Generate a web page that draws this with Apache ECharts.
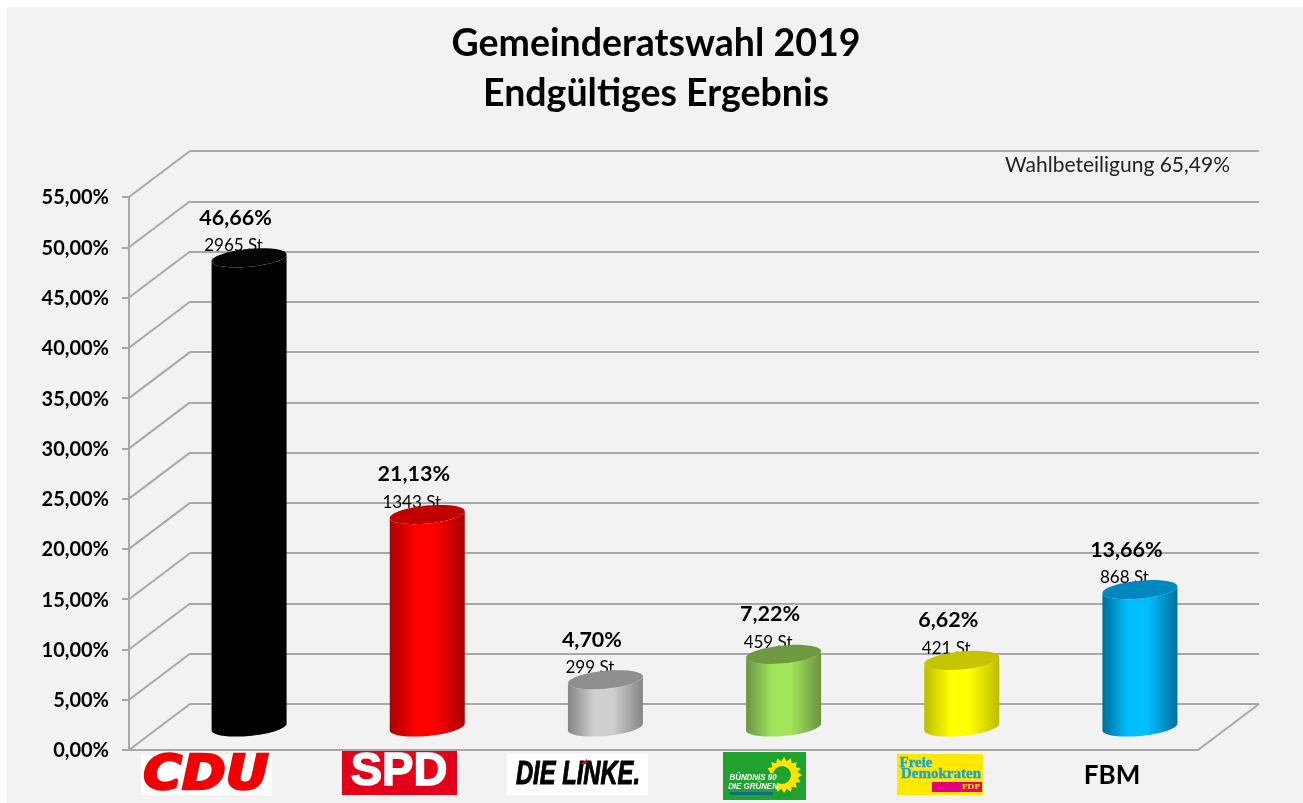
<!DOCTYPE html>
<html>
<head>
<meta charset="utf-8">
<title>Gemeinderatswahl 2019</title>
<script src="https://cdn.jsdelivr.net/npm/echarts@6/dist/echarts.min.js"></script>
<style>
    html, body { margin: 0; background: #fff; }
    #panel { position: absolute; left: 7px; top: 7px; right: 0; bottom: 0; background: #f2f2f2; }
    #chart { position: absolute; left: 0; top: 0; width: 1303px; height: 803px; }
</style>
</head>
<body>
<div id="panel"></div>
<div id="chart"></div>
<script>
const parties = ["CDU", "SPD", "DIE LINKE.", "GRÜNE", "FDP", "FBM"];
const shares = [46.66, 21.13, 4.70, 7.22, 6.62, 13.66];
const votes = [2965, 1343, 299, 459, 421, 868];
const yTicks = [0, 5, 10, 15, 20, 25, 30, 35, 40, 45, 50, 55];

const mainTitle = "Gemeinderatswahl 2019\nEndgültiges Ergebnis";
const turnoutNote = "Wahlbeteiligung 65,49%";

// edge colour, centre colour, top colour of each cylinder
const barColors = [
    ["#000000", "#000000", "#050505"],
    ["#a80000", "#ff0000", "#c00000"],
    ["#858585", "#cfcfcf", "#8f8f8f"],
    ["#6b9440", "#a2e45c", "#6f9a42"],
    ["#bcbc00", "#ffff00", "#c4c400"],
    ["#006f9e", "#00bfff", "#0088bd"],
];

const FONT = "Lato, 'Open Sans', sans-serif";
const GRID_COLOR = "#a8a8a8";
const FRONT = { left: 129, top: 197, width: 1069, height: 553 };
const DEPTH_X = 61, DEPTH_Y = 46;

function percent(v) {
    return v.toFixed(2).replace(".", ",") + "%";
}

// MARK: - Cylinder helpers

function ellipsePoints(cx, cy, from, to) {
    const a = 37.5, b = 9, skew = 0.09;
    let points = [];
    for (let i = 0; i <= 40; i++) {
        let t = from + (to - from) * i / 40;
        points.push([cx + a * Math.cos(t), cy + b * Math.sin(t) - skew * a * Math.cos(t)]);
    }
    return points;
}

function renderCylinder(params, api) {
    let index = api.value(0);
    let value = api.value(1);
    let top = api.coord([index, value]);
    let base = api.coord([index, 0]);
    let cx = top[0] + DEPTH_X / 2 + 0.5;
    let topY = top[1] - DEPTH_Y / 2;
    let baseY = base[1] - DEPTH_Y / 2;
    let colors = barColors[index];

    let body = ellipsePoints(cx, baseY, 0, Math.PI).concat(ellipsePoints(cx, topY, Math.PI, 0));
    let gradient = new echarts.graphic.LinearGradient(0, 0, 1, 0, [
        { offset: 0, color: colors[0] },
        { offset: 0.35, color: colors[1] },
        { offset: 0.6, color: colors[1] },
        { offset: 1, color: colors[0] },
    ]);

    return {
        type: "group",
        children: [
            {
                type: "text",
                style: {
                    text: percent(value), x: cx - 13.5, y: topY - 40,
                    font: "bold 21.5px " + FONT, fill: "#000",
                    align: "center", verticalAlign: "middle",
                },
            },
            {
                type: "text",
                style: {
                    text: votes[index] + " St.", x: cx - 13.5, y: topY - 12,
                    font: "17px " + FONT, fill: "#000",
                    align: "center", verticalAlign: "middle",
                },
            },
            { type: "polygon", shape: { points: body }, style: { fill: gradient } },
            {
                type: "polygon",
                shape: { points: ellipsePoints(cx, topY, 0, Math.PI * 2) },
                style: { fill: colors[2] },
            },
        ],
    };
}

// diagonal lines of the side wall and the floor
function renderWalls(params, api) {
    let y = api.coord([0, api.value(1)])[1];
    let left = params.coordSys.x;
    let lines = [[left, y]];
    if (api.value(1) === 0) {
        lines.push([left + params.coordSys.width, y]);
    }
    return {
        type: "group",
        children: lines.map(start => ({
            type: "line",
            shape: { x1: start[0], y1: start[1], x2: start[0] + DEPTH_X, y2: start[1] - DEPTH_Y },
            style: { stroke: GRID_COLOR, lineWidth: 2 },
        })),
    };
}

// MARK: - Party logos under the axis

function sunflower(cx, cy) {
    let points = [];
    for (let i = 0; i < 32; i++) {
        let angle = Math.PI * i / 16;
        let r = i % 2 === 0 ? 18 : 14;
        points.push([cx + r * Math.cos(angle), cy + r * Math.sin(angle)]);
    }
    return points;
}

function logoText(text, x, y, font, fill, extra) {
    return Object.assign({
        type: "text",
        x: x,
        y: y,
        style: Object.assign({ text: text, font: font, fill: fill, align: "center", verticalAlign: "middle" },
            extra && extra.stroke ? { stroke: fill, lineWidth: extra.stroke } : {}),
    }, extra && extra.scaleX ? { scaleX: extra.scaleX } : {});
}

function logoRect(x, y, width, height, fill) {
    return { type: "rect", shape: { x: x, y: y, width: width, height: height }, style: { fill: fill } };
}

const logos = [
    logoRect(141, 755, 131, 40, "#ffffff"),
    logoText("CDU", 206, 777, "italic bold 48px 'DejaVu Sans'", "#f00000", { stroke: 2.5, scaleX: 1.1 }),

    logoRect(342, 750, 115, 45, "#e2001a"),
    logoText("SPD", 399, 772, "bold 47px 'Liberation Sans'", "#ffffff", { stroke: 1.5 }),

    logoRect(507, 754, 141, 41, "#ffffff"),
    logoText("DIE LINKE.", 578, 775, "italic bold 33px 'Liberation Sans'", "#000000", { stroke: 1, scaleX: 0.72 }),
    { type: "polygon", shape: { points: [[580, 764], [587, 759], [586, 764]] }, style: { fill: "#e3000f" } },

    logoRect(723, 752, 83, 48, "#1fa32e"),
    { type: "polygon", shape: { points: sunflower(784, 775) }, style: { fill: "#ffe500" } },
    { type: "circle", shape: { cx: 782, cy: 775, r: 9 }, style: { fill: "#1fa32e" } },
    { type: "polygon", shape: { points: [[784, 775], [763, 772], [770, 796]] }, style: { fill: "#1fa32e" } },
    logoText("BÜNDNIS 90", 753, 778, "italic bold 9px 'Liberation Sans'", "#ffffff", { scaleX: 0.88 }),
    logoText("DIE GRÜNEN", 753, 787, "italic bold 9px 'Liberation Sans'", "#ffffff", { scaleX: 0.88 }),
    logoRect(730, 792, 43, 3, "#0b6f8a"),

    logoRect(897, 754, 86, 41, "#ffe900"),
    logoText("Freie", 916, 763, "bold 15px 'Liberation Serif'", "#1aa3d9", { stroke: 0.4 }),
    logoText("Demokraten", 941, 774, "bold 15px 'Liberation Serif'", "#1aa3d9", { stroke: 0.4 }),
    logoRect(932, 782, 50, 10, "#e5007d"),
    logoText("FDP", 971, 787, "bold 8px 'DejaVu Serif'", "#ffe900"),

    logoText("FBM", 1112, 776, "bold 26px " + FONT, "#000000"),
];

// MARK: - Chart

let chart = echarts.init(document.getElementById("chart"));

chart.setOption({
    animation: false,
    title: [
        {
            text: mainTitle,
            left: 651,
            top: 14,
            textAlign: "center",
            textStyle: { fontFamily: FONT, fontWeight: "bold", fontSize: 37.5, lineHeight: 50, color: "#000" },
        },
        {
            text: turnoutNote,
            left: 1000,
            top: 150,
            textStyle: { fontFamily: FONT, fontWeight: "normal", fontSize: 21, color: "#222" },
        },
    ],
    grid: [
        { left: FRONT.left + DEPTH_X, top: FRONT.top - DEPTH_Y, width: FRONT.width, height: FRONT.height },
        { left: FRONT.left, top: FRONT.top, width: FRONT.width, height: FRONT.height },
    ],
    xAxis: [
        { gridIndex: 0, type: "category", data: parties, show: false },
        {
            gridIndex: 1,
            type: "category",
            data: parties,
            axisLine: { lineStyle: { color: GRID_COLOR, width: 2 } },
            axisTick: { length: 7, lineStyle: { color: GRID_COLOR, width: 2 } },
            axisLabel: { show: false },
        },
    ],
    yAxis: [
        {
            gridIndex: 0,
            type: "value",
            min: 0,
            max: 55,
            interval: 5,
            axisLine: { show: false },
            axisTick: { show: false },
            axisLabel: { show: false },
            splitLine: { lineStyle: { color: GRID_COLOR, width: 2 } },
        },
        {
            gridIndex: 1,
            type: "value",
            min: 0,
            max: 55,
            interval: 5,
            axisLine: { show: true, lineStyle: { color: GRID_COLOR, width: 2 } },
            axisTick: { show: true, length: 7, lineStyle: { color: GRID_COLOR, width: 2 } },
            axisLabel: {
                margin: 20,
                verticalAlign: "top",
                padding: [-9, 0, 0, 0],
                fontFamily: FONT,
                fontWeight: "bold",
                fontSize: 20,
                color: "#000",
                formatter: percent,
            },
            splitLine: { show: false },
        },
    ],
    series: [
        {
            type: "custom",
            xAxisIndex: 1,
            yAxisIndex: 1,
            z: 1,
            silent: true,
            renderItem: renderWalls,
            data: yTicks.map(v => [0, v]),
        },
        {
            type: "custom",
            xAxisIndex: 1,
            yAxisIndex: 1,
            z: 3,
            silent: true,
            renderItem: renderCylinder,
            data: shares.map((v, i) => [i, v]),
        },
    ],
    graphic: logos,
});
</script>
</body>
</html>
